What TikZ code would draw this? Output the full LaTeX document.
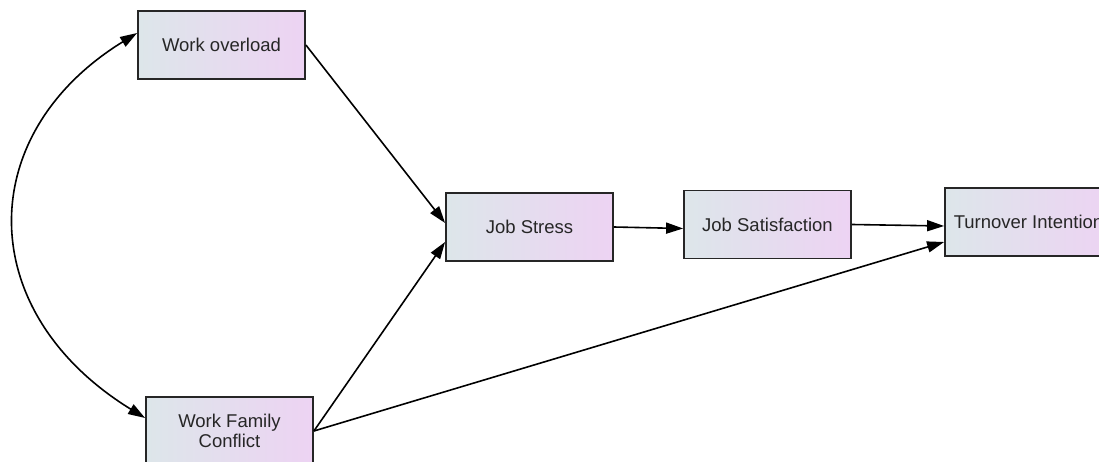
\documentclass[tikz,border=0pt]{standalone}
\usepackage{fontspec}
\setmainfont{Liberation Sans}
\usetikzlibrary{arrows.meta}
\definecolor{boxl}{HTML}{DDE6EA}
\definecolor{boxr}{HTML}{EDD3F3}
\tikzset{
  box/.style={draw=black!85, line width=1.8pt, minimum width=167pt, minimum height=68pt,
    inner sep=0pt, left color=boxl, right color=boxr, align=center,
    font=\fontsize{18.5}{20}\selectfont, text=black!85},
  arr/.style={line width=1.6pt, -{Triangle[length=17pt,width=11pt]}},
  darr/.style={line width=1.6pt, {Triangle[length=17pt,width=11pt]}-{Triangle[length=17pt,width=11pt]}}
}
\begin{document}
\begin{tikzpicture}[x=1pt,y=-1pt]
\useasboundingbox (0,0) rectangle (1099,462);
\clip (0,0) rectangle (1099,462);
\node[box] (wo) at (221.5,45) {Work overload};
\node[box] (wfc) at (229.5,431) {Work Family\\Conflict};
\node[box] (js) at (529.5,227) {Job Stress};
\node[box] (jsat) at (767.5,224.5) {Job Satisfaction};
\node[box] (ti) at (1028.5,222) {Turnover Intention};
\draw[arr] (wo.east) -- ([yshift=4pt]js.west);
\draw[arr] (wfc.east) -- ([yshift=-15pt]js.west);
\draw[arr] (wfc.east) -- ([yshift=-20pt]ti.west);
\draw[arr] (js.east) -- ([yshift=-4pt]jsat.west);
\draw[arr] (jsat.east) -- ([yshift=-4pt]ti.west);
\draw[darr] ([yshift=12pt]wo.west) .. controls (-27,134) and (-27,312) .. ([yshift=13pt]wfc.west);
\end{tikzpicture}
\end{document}
